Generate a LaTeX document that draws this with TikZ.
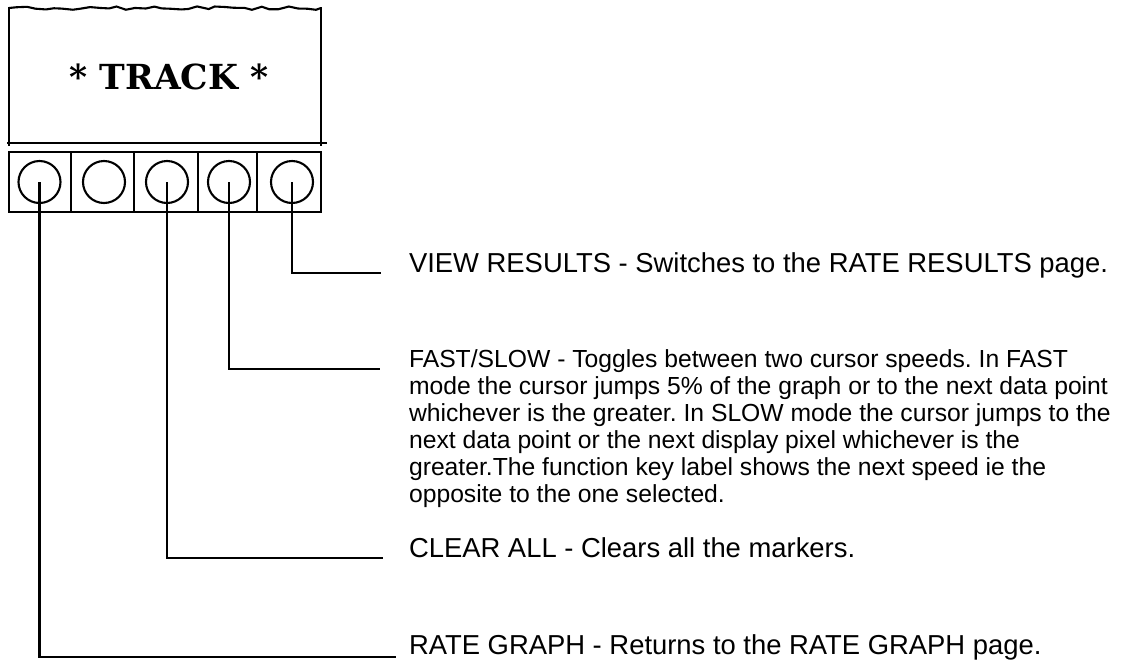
\documentclass[tikz,border=0pt]{standalone}
\usepackage{fontspec}
\setmainfont{Liberation Sans}
\newfontfamily\trackfont{DejaVu Serif}
\usetikzlibrary{decorations.pathmorphing}
\frenchspacing

\begin{document}
\begin{tikzpicture}[x=1pt, y=-1pt, line width=2.1pt,
    knob/.style={draw, circle, minimum size=42pt, inner sep=0pt},
    desc/.style={anchor=base west, inner sep=0pt, font=\fontsize{27.4}{32}\selectfont}]
  \useasboundingbox (0,0) rectangle (1126,659);
  % display window with torn top edge
  \pgfmathsetseed{3}
  \draw[decorate, decoration={random steps, segment length=9pt, amplitude=1.8pt}] (9,8) -- (321,8);
  \draw (9,7) -- (9,146) (321,7) -- (321,146);
  \draw (7,143) -- (327,143);
  \node[font=\trackfont\bfseries\fontsize{34.5}{40}\selectfont] (title) at (169,77) {* TRACK *};
  % function keys
  \draw (9,152) rectangle (321,212);
  \foreach \x in {71,134,198,257} \draw (\x,152) -- (\x,212);
  \foreach \x [count=\i] in {39.5,104,167,229,292} \node[knob] (b\i) at (\x,182) {};
  % leader ends
  \coordinate (e5) at (381,273);
  \coordinate (e4) at (380,369);
  \coordinate (e3) at (383,558);
  \coordinate (e1) at (396,657);
  \draw (b5.center) |- (e5);
  \draw (b4.center) |- (e4);
  \draw (b3.center) |- (e3);
  \draw (b1.center) |- (e1);
  % key descriptions
  \node[desc] (view) at (408,272) {VIEW RESULTS - Switches to the RATE RESULTS page.};
  \node[anchor=north west, inner sep=0pt, align=left, font=\fontsize{24.7}{27}\selectfont] (fast) at (408,349) {%
    FAST/SLOW - Toggles between two cursor speeds. In FAST\\
    mode the cursor jumps 5\% of the graph or to the next data point\\
    whichever is the greater. In SLOW mode the cursor jumps to the\\
    next data point or the next display pixel whichever is the\\
    greater.The function key label shows the next speed ie the\\
    opposite to the one selected.};
  \node[desc] (clear) at (408,557) {CLEAR ALL - Clears all the markers.};
  \node[desc] (rate) at (408,654) {RATE GRAPH - Returns to the RATE GRAPH page.};
\end{tikzpicture}
\end{document}
